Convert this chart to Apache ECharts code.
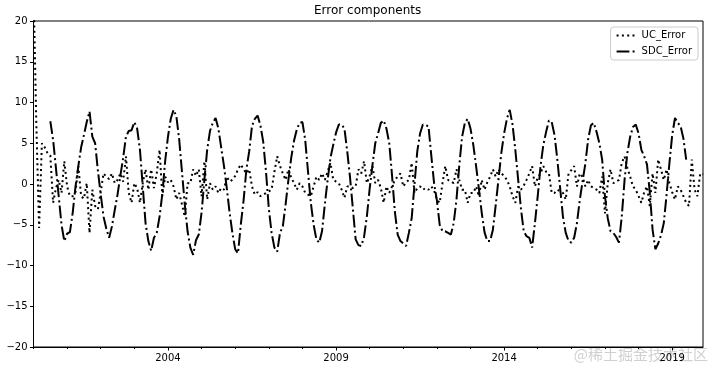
<!DOCTYPE html>
<html>
<head>
<meta charset="utf-8">
<script src="https://cdn.jsdelivr.net/npm/echarts@6/dist/echarts.min.js"></script>
<style>
  html, body { margin: 0; padding: 0; background: #fff; }
  #chart { width: 712px; height: 367px; }
</style>
</head>
<body>
<div id="chart"></div>
<script>
// ---- data (monthly, 2000-01 .. 2019-12) ----
const startYear = 2000;
const endYear = 2019;
const labelYears = [2004, 2009, 2014, 2019];
const seriesNames = ['UC_Error', 'SDC_Error'];
const yTicks = [-20, -15, -10, -5, 0, 5, 10, 15, 20];

const ucError = [
  24, 7.5, -5.4, 5.0, 4.5, 3.8, 3.5, -2.3, -0.5, 0.5,
  -1.1, 2.8, -0.3, -1.5, -1.5, -1.0, 2.2, -1.5, -1.8, 0.1,
  -6.0, -0.7, -2.7, -3.1, -1.0, 1.3, 0.9, 0.6, 1.3, 0.1,
  0.5, 1.3, 0.3, 3.4, -1.1, -2.3, 0.1, -0.5, -2.3, 0.1,
  1.8, -0.7, 1.8, -0.5, 1.3, 4.2, -1.5, 0.9, 0.2, 0.5,
  -0.3, -1.9, -1.1, -2.5, -4.0, 0.1, 0.1, 1.8, 1.0, 1.8,
  -1.5, 2.8, -1.9, 0.1, -0.7, -0.3, -1.1, -0.5, -0.7, 0.9,
  0.3, 0.5, 1.0, 1.8, 2.4, 1.8, 1.3, 1.8, -0.3, -1.3,
  -1.0, -1.5, -1.3, -1.1, -0.9, -0.7, 1.5, 3.4, 2.2, 1.3,
  0.5, 1.8, 0.8, 0.1, -0.7, 0.1, -0.3, -1.1, -1.3, -1.5,
  -0.3, 0.9, 0.5, 1.3, 0.5, 1.5, 2.6, 0.5, 0.3, 0.1,
  -0.7, -1.7, -0.3, -0.3, -0.5, -0.3, 1.8, 1.3, 2.8, 0.1,
  1.0, 2.2, 0.1, 0.5, -0.5, -2.3, -0.3, -1.1, -0.3, 0.5,
  0.9, 1.3, -0.3, 0.2, 0.5, 2.6, -1.1, -0.5, -0.3, -0.7,
  -0.5, -0.7, -0.3, -0.8, -1.9, -2.3, 0.1, 2.2, 0.5, 0.3,
  0.1, 1.8, 0.5, -0.7, -0.7, -2.3, -1.1, -1.1, -0.3, -1.5,
  0.5, -0.7, 0.2, 0.9, 1.8, 0.9, 1.8, 1.3, 1.0, 0.5,
  -0.3, -1.5, -2.3, -0.3, -0.7, -0.2, 0.5, 1.3, 2.2, -0.3,
  0.8, 1.3, 2.2, 1.5, 1.3, -1.1, -1.1, -0.7, -0.9, -1.1,
  -1.9, 1.3, 1.7, 2.2, -0.3, 1.3, 0.9, -0.3, 0.5, -0.3,
  -0.5, -0.7, -1.1, 0.9, -3.6, 0.1, 1.8, 0.1, 0.3, 0.5,
  2.6, 3.4, 2.0, 0.9, -0.3, -0.7, -1.5, -2.3, -1.0, -0.3,
  -2.7, 1.3, -1.1, 3.0, 1.8, 0.5, 1.8, 0.1, -1.0, -1.9,
  -0.3, -0.7, -1.5, -2.3, -2.7, 3.0, -0.7, -1.5, 1.3, 1.2
];

const sdcError = [
  null, null, null, null, null, null, 7.7, 5.4, 2.0, -1.5,
  -5.0, -7.0, -6.1, -5.9, -3.5, -0.3, 2.2, 4.5, 6.0, 7.6,
  8.9, 5.8, 5.0, 1.6, -1.3, -4.0, -5.5, -6.6, -5.2, -3.2,
  -1.3, 1.0, 3.2, 5.8, 6.5, 6.6, 7.6, 6.8, 4.2, -0.3,
  -4.8, -7.0, -8.2, -6.6, -6.0, -4.0, -1.2, 2.8, 5.8, 8.0,
  9.1, 8.3, 5.5, 1.5, -2.5, -5.8, -7.8, -8.7, -6.9, -6.2,
  -3.5, 0.5, 4.2, 6.5, 7.5, 8.1, 6.8, 4.5, 2.2, -0.5,
  -3.5, -6.0, -8.0, -8.5, -5.0, -2.0, 1.8, 4.0, 7.1, 8.0,
  8.4, 7.2, 5.2, 1.5, -3.0, -6.0, -7.8, -8.3, -6.0, -5.2,
  -2.5, 0.5, 3.2, 5.3, 6.7, 7.5, 7.6, 5.4, 1.5, -2.3,
  -5.0, -6.8, -7.2, -5.8, -2.5, 0.5, 3.2, 4.8, 6.3, 7.3,
  7.3, 6.8, 4.0, 0.8, -3.0, -6.8, -7.5, -7.6, -6.5, -4.0,
  -0.6, 2.3, 5.0, 6.2, 7.5, 7.8, 6.8, 5.0, 1.0, -3.4,
  -6.2, -7.0, -7.3, -7.6, -6.0, -4.2, -0.1, 4.0, 6.2, 7.3,
  7.2, 7.1, 3.5, 0.1, -2.0, -5.0, -5.8, -5.8, -6.0, -6.2,
  -4.8, -1.9, 2.3, 5.8, 7.5, 8.0, 6.8, 4.8, 2.2, -0.6,
  -3.5, -5.9, -7.0, -7.0, -5.6, -2.6, 0.6, 3.8, 6.2, 8.0,
  9.1, 7.3, 4.2, 0.6, -3.0, -5.8, -6.4, -6.6, -7.8, -4.8,
  -1.5, 2.2, 4.8, 6.4, 7.8, 7.6, 6.0, 3.0, -0.5, -4.0,
  -6.0, -7.0, -7.2, -6.6, -4.8, -2.0, 0.3, 2.5, 5.5, 7.2,
  7.5, 6.4, 5.0, 3.0, -1.5, -4.2, -5.8, -6.0, -6.5, -7.2,
  -4.0, 0.5, 3.8, 5.8, 7.0, 7.3, 6.2, 4.2, 3.4, 2.4,
  -1.0, -5.6, -8.0, -7.3, -6.3, -4.8, -1.3, 2.5, 6.0, 8.1,
  7.5, 7.1, 5.6, 3.0, null, null, null, null, null, null
];

// month categories
const months = [];
for (let y = startYear; y <= endYear; y++) {
  for (let m = 1; m <= 12; m++) months.push(y + '-' + (m < 10 ? '0' + m : m));
}

const FONT = 'DejaVu Sans';
const isYearStart = (i) => months[i] && months[i].endsWith('-01');
const isLabelYear = (i) => isYearStart(i) && labelYears.includes(+months[i].slice(0, 4));
const fmtNum = (v) => (v < 0 ? '\u2212' + Math.abs(v) : String(v));

const chart = echarts.init(document.getElementById('chart'), null, { renderer: 'canvas' });
chart.setOption({
  animation: false,
  backgroundColor: '#ffffff',
  title: {
    text: 'Error components',
    left: 309, top: 0,
    textStyle: { fontFamily: FONT, fontSize: 12, fontWeight: 'normal', color: '#000' }
  },
  grid: {
    left: 33.5, right: 9, top: 21, bottom: 20,
    show: true, borderColor: '#000', borderWidth: 1, backgroundColor: 'transparent'
  },
  legend: {
    data: seriesNames,
    orient: 'vertical',
    right: 14, top: 27,
    itemWidth: 20, itemHeight: 10, itemGap: 6,
    padding: [3.5, 6, 3.5, 5],
    backgroundColor: 'rgba(255,255,255,0.8)',
    borderColor: '#cccccc', borderWidth: 1, borderRadius: 3,
    itemStyle: { opacity: 0 },
    lineStyle: { width: 2, color: '#000' },
    textStyle: { fontFamily: FONT, fontSize: 10, color: '#000' }
  },
  xAxis: [{
    type: 'category',
    data: months,
    boundaryGap: false,
    axisLine: { show: true, onZero: false, lineStyle: { color: '#000', width: 1 } },
    axisTick: { show: true, interval: (i) => isYearStart(i), length: 2, lineStyle: { color: '#000' } },
    axisLabel: { show: false },
    splitLine: { show: false }
  }, {
    type: 'category',
    data: months,
    boundaryGap: false,
    position: 'bottom',
    axisLine: { show: false, onZero: false },
    axisTick: { show: true, interval: (i) => isLabelYear(i), length: 3.5, lineStyle: { color: '#000' } },
    axisLabel: {
      show: true, interval: (i) => isLabelYear(i),
      formatter: (v) => v.slice(0, 4),
      fontFamily: FONT, fontSize: 10, color: '#000', margin: 6
    },
    splitLine: { show: false }
  }],
  yAxis: {
    type: 'value',
    min: yTicks[0], max: yTicks[yTicks.length - 1], interval: 5,
    axisLine: { show: true, onZero: false, lineStyle: { color: '#000', width: 1 } },
    axisTick: { show: true, length: 3.5, lineStyle: { color: '#000' } },
    axisLabel: { formatter: fmtNum, fontFamily: FONT, fontSize: 10, color: '#000', margin: 6 },
    splitLine: { show: false }
  },
  series: [{
    name: seriesNames[0],
    type: 'line',
    data: ucError,
    symbol: 'none',
    xAxisIndex: 0,
    clip: true,
    color: '#000',
    lineStyle: { color: '#000', width: 2, type: [2, 3.3] }
  }, {
    name: seriesNames[1],
    type: 'line',
    data: sdcError,
    symbol: 'none',
    xAxisIndex: 0,
    clip: true,
    color: '#000',
    lineStyle: { color: '#000', width: 2, type: [12.8, 3.2, 2, 3.2] }
  }],
  graphic: [{
    type: 'text',
    right: 4, bottom: 5,
    style: {
      text: '@稀土掘金技术社区',
      fontFamily: 'Noto Sans CJK SC', fontSize: 15,
      fill: 'rgba(170,170,170,0.55)'
    }
  }]
});
</script>
</body>
</html>
